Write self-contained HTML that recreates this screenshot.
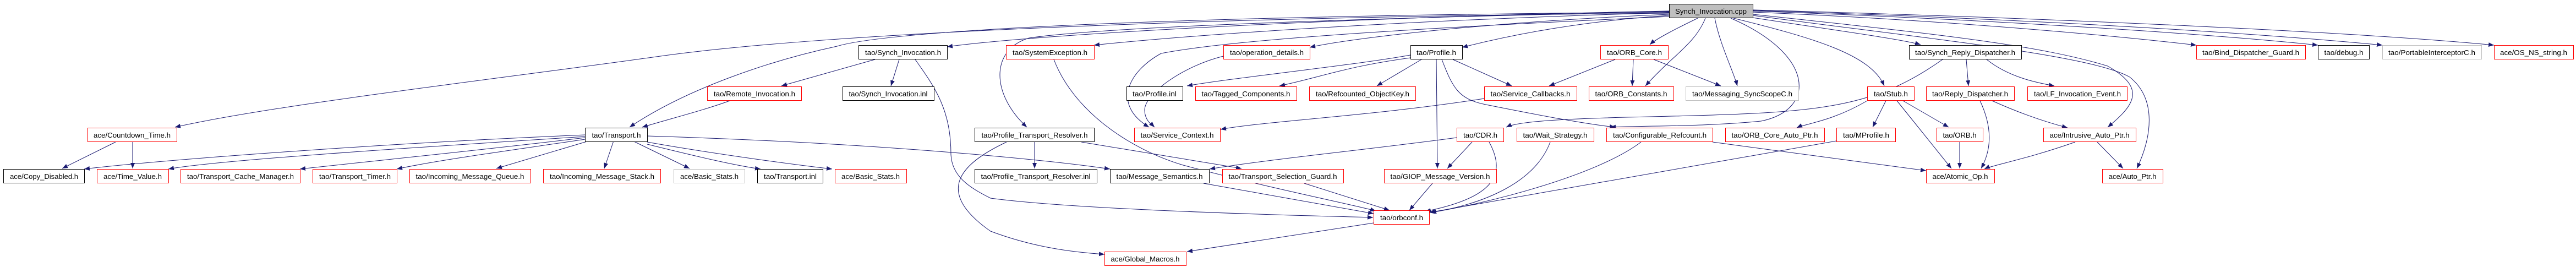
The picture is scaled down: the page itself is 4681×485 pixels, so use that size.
<!DOCTYPE html>
<html><head><meta charset="utf-8"><style>html,body{margin:0;padding:0;background:#fff}svg{display:block}text{font-family:"Liberation Sans",sans-serif;font-size:12.5px;fill:#000}</style></head><body>
<svg width="4681" height="485" viewBox="0 0 4681 485" xmlns="http://www.w3.org/2000/svg">
<defs><marker id="a" markerWidth="10" markerHeight="8" refX="10" refY="4" orient="auto" markerUnits="userSpaceOnUse"><path d="M0,0 L10,4 L0,8 z" fill="#191970"/></marker></defs>
<g fill="none" stroke="#191970" stroke-width="1" marker-end="url(#a)">
<path d="M3033,24 C2200,30 1500,60 1200,102 S500,190 318,231"/>
<path d="M3033,22 C2000,30 1600,60 1521,84 C1400,110 1250,160 1144,231"/>
<path d="M1326,183 C1280,200 1220,215 1167,231"/>
<path d="M3033,20 C2500,30 1900,60 1721,85"/>
<path d="M3033,21 C2400,35 2000,50 1870,69 C1800,90 1800,170 1866,231"/>
<path d="M3033,23 C2600,35 2200,60 1988,82"/>
<path d="M3033,26 C2700,40 2450,70 2380,86"/>
<path d="M3033,28 C2850,40 2720,70 2657,86"/>
<path d="M3085,33 C3050,50 3010,70 2998,81"/>
<path d="M3099,33 C3080,80 3040,100 2990,156"/>
<path d="M3116,33 C3125,80 3150,130 3157,156"/>
<path d="M3145,33 C3300,100 3300,200 3200,220 C3100,230 3000,228 2926,231"/>
<path d="M3150,33 C3300,70 3400,100 3424,156"/>
<path d="M3185,32 C3300,50 3450,70 3490,81"/>
<path d="M3185,22 C3500,35 3800,60 3991,82"/>
<path d="M3185,20 C3600,35 4000,60 4212,82"/>
<path d="M3185,19 C3700,35 4100,60 4329,82"/>
<path d="M3185,18 C3800,35 4300,60 4532,82"/>
<path d="M3185,26 C3500,60 3700,80 3830,120 C3900,160 3880,190 3830,231"/>
<path d="M3185,28 C3500,70 3800,100 3870,140 C3920,180 3910,250 3883,306"/>
<path d="M3033,30 C2600,50 2250,70 2110,97 C2050,130 2020,190 2088,231"/>
<path d="M2223,102 C2150,120 2080,170 2080,200 C2080,220 2095,228 2098,231"/>
<path d="M2697,179 C2500,210 2300,220 2218,235"/>
<path d="M1590,108 L1420,156"/>
<path d="M1634,108 L1619,156"/>
<path d="M1663,108 C1700,160 1728,200 1728,281 C1730,320 1760,340 1800,360 C1950,380 2300,390 2495,395"/>
<path d="M1915,108 C1950,200 2050,270 2150,300 C2300,340 2450,370 2500,383"/>
<path d="M2563,100 C2450,120 2250,140 2157,156"/>
<path d="M2563,105 C2450,120 2400,140 2325,156"/>
<path d="M1880,258 L1880,306"/>
<path d="M1829,258 C1740,300 1700,350 1800,420 C1880,450 1950,458 2007,462"/>
<path d="M1965,258 L2256,306"/>
<path d="M1176,247 C1600,260 1900,290 2017,307"/>
<path d="M2647,250 C2500,270 2300,290 2198,307"/>
<path d="M1063,245 C700,260 300,290 153,307"/>
<path d="M1063,248 C800,265 400,290 306,307"/>
<path d="M1063,250 C900,270 700,290 545,307"/>
<path d="M1063,253 C950,270 800,290 721,307"/>
<path d="M1070,256 L902,306"/>
<path d="M1115,256 L1098,306"/>
<path d="M1150,256 L1253,306"/>
<path d="M1176,262 C1250,280 1330,300 1382,307"/>
<path d="M1176,258 C1300,280 1450,300 1512,307"/>
<path d="M210,258 L113,306"/>
<path d="M241,258 L241,306"/>
<path d="M2187,333 L2496,388"/>
<path d="M2370,333 L2525,382"/>
<path d="M2496,405 L2157,457"/>
<path d="M2583,108 L2502,156"/>
<path d="M2640,108 L2747,156"/>
<path d="M2610,108 L2612,306"/>
<path d="M2620,108 C2640,160 2650,180 2700,190 C2800,210 2880,225 2935,231"/>
<path d="M2935,108 L2815,156"/>
<path d="M2968,108 L2966,156"/>
<path d="M3005,108 L3127,156"/>
<path d="M3530,108 C3400,200 3300,205 3000,212 C2850,215 2760,220 2737,231"/>
<path d="M3573,108 L3577,156"/>
<path d="M3610,108 C3650,140 3700,150 3733,156"/>
<path d="M3620,183 C3680,210 3730,225 3757,232"/>
<path d="M3598,183 C3620,230 3620,270 3600,306"/>
<path d="M3393,183 C3330,220 3280,225 3265,232"/>
<path d="M3427,183 L3403,231"/>
<path d="M3458,183 L3541,231"/>
<path d="M3447,183 L3546,306"/>
<path d="M3561,258 L3561,306"/>
<path d="M3112,258 L3500,310"/>
<path d="M3337,256 L2597,386"/>
<path d="M2675,258 L2630,306"/>
<path d="M2706,258 C2740,320 2710,360 2590,384"/>
<path d="M2603,333 L2561,382"/>
<path d="M2817,258 C2790,330 2700,370 2600,386"/>
<path d="M2982,258 C2900,320 2700,370 2600,386"/>
<path d="M3771,258 C3680,290 3620,300 3606,307"/>
<path d="M3811,258 L3858,306"/>
</g>
<g stroke-width="1">
<rect x="3033.5" y="7.5" width="152" height="25" fill="#bfbfbf" stroke="#000"/>
<rect x="1560.5" y="82.5" width="161" height="25" fill="#fff" stroke="#000"/>
<rect x="1828.5" y="82.5" width="160" height="25" fill="#fff" stroke="#f00"/>
<rect x="2223.5" y="82.5" width="157" height="25" fill="#fff" stroke="#f00"/>
<rect x="2563.5" y="82.5" width="94" height="25" fill="#fff" stroke="#000"/>
<rect x="2908.5" y="82.5" width="123" height="25" fill="#fff" stroke="#f00"/>
<rect x="3469.5" y="82.5" width="204" height="25" fill="#fff" stroke="#000"/>
<rect x="3991.5" y="82.5" width="198" height="25" fill="#fff" stroke="#f00"/>
<rect x="4212.5" y="82.5" width="93" height="25" fill="#fff" stroke="#000"/>
<rect x="4329.5" y="82.5" width="180" height="25" fill="#fff" stroke="#bfbfbf"/>
<rect x="4532.5" y="82.5" width="144" height="25" fill="#fff" stroke="#f00"/>
<rect x="1285.5" y="157.5" width="171" height="25" fill="#fff" stroke="#f00"/>
<rect x="1531.5" y="157.5" width="166" height="25" fill="#fff" stroke="#000"/>
<rect x="2047.5" y="157.5" width="102" height="25" fill="#fff" stroke="#000"/>
<rect x="2172.5" y="157.5" width="184" height="25" fill="#fff" stroke="#f00"/>
<rect x="2379.5" y="157.5" width="193" height="25" fill="#fff" stroke="#f00"/>
<rect x="2697.5" y="157.5" width="168" height="25" fill="#fff" stroke="#f00"/>
<rect x="2887.5" y="157.5" width="154" height="25" fill="#fff" stroke="#f00"/>
<rect x="3063.5" y="157.5" width="205" height="25" fill="#fff" stroke="#bfbfbf"/>
<rect x="3393.5" y="157.5" width="85" height="25" fill="#fff" stroke="#f00"/>
<rect x="3500.5" y="157.5" width="160" height="25" fill="#fff" stroke="#f00"/>
<rect x="3684.5" y="157.5" width="181" height="25" fill="#fff" stroke="#f00"/>
<rect x="159.5" y="232.5" width="162" height="25" fill="#fff" stroke="#f00"/>
<rect x="1063.5" y="232.5" width="113" height="25" fill="#fff" stroke="#000"/>
<rect x="1771.5" y="232.5" width="217" height="25" fill="#fff" stroke="#000"/>
<rect x="2061.5" y="232.5" width="156" height="25" fill="#fff" stroke="#f00"/>
<rect x="2647.5" y="232.5" width="85" height="25" fill="#fff" stroke="#f00"/>
<rect x="2756.5" y="232.5" width="140" height="25" fill="#fff" stroke="#f00"/>
<rect x="2919.5" y="232.5" width="193" height="25" fill="#fff" stroke="#f00"/>
<rect x="3135.5" y="232.5" width="180" height="25" fill="#fff" stroke="#f00"/>
<rect x="3337.5" y="232.5" width="107" height="25" fill="#fff" stroke="#f00"/>
<rect x="3519.5" y="232.5" width="84" height="25" fill="#fff" stroke="#f00"/>
<rect x="3713.5" y="232.5" width="168" height="25" fill="#fff" stroke="#f00"/>
<rect x="6.5" y="307.5" width="147" height="25" fill="#fff" stroke="#000"/>
<rect x="176.5" y="307.5" width="130" height="25" fill="#fff" stroke="#f00"/>
<rect x="328.5" y="307.5" width="217" height="25" fill="#fff" stroke="#f00"/>
<rect x="568.5" y="307.5" width="153" height="25" fill="#fff" stroke="#f00"/>
<rect x="744.5" y="307.5" width="220" height="25" fill="#fff" stroke="#f00"/>
<rect x="987.5" y="307.5" width="213" height="25" fill="#fff" stroke="#f00"/>
<rect x="1224.5" y="307.5" width="129" height="25" fill="#fff" stroke="#bfbfbf"/>
<rect x="1376.5" y="307.5" width="119" height="25" fill="#fff" stroke="#000"/>
<rect x="1517.5" y="307.5" width="130" height="25" fill="#fff" stroke="#f00"/>
<rect x="1771.5" y="307.5" width="222" height="25" fill="#fff" stroke="#000"/>
<rect x="2017.5" y="307.5" width="180" height="25" fill="#fff" stroke="#000"/>
<rect x="2221.5" y="307.5" width="220" height="25" fill="#fff" stroke="#f00"/>
<rect x="2515.5" y="307.5" width="204" height="25" fill="#fff" stroke="#f00"/>
<rect x="3500.5" y="307.5" width="124" height="25" fill="#fff" stroke="#f00"/>
<rect x="3820.5" y="307.5" width="110" height="25" fill="#fff" stroke="#f00"/>
<rect x="2496.5" y="382.5" width="101" height="25" fill="#fff" stroke="#f00"/>
<rect x="2007.5" y="457.5" width="148" height="25" fill="#fff" stroke="#f00"/>
</g>
<g text-anchor="middle" lengthAdjust="spacingAndGlyphs">
<text x="3109" y="25" textLength="130" lengthAdjust="spacingAndGlyphs">Synch_Invocation.cpp</text>
<text x="1641" y="100" textLength="138" lengthAdjust="spacingAndGlyphs">tao/Synch_Invocation.h</text>
<text x="1908" y="100" textLength="136" lengthAdjust="spacingAndGlyphs">tao/SystemException.h</text>
<text x="2302" y="100" textLength="134" lengthAdjust="spacingAndGlyphs">tao/operation_details.h</text>
<text x="2610" y="100" textLength="72" lengthAdjust="spacingAndGlyphs">tao/Profile.h</text>
<text x="2970" y="100" textLength="100" lengthAdjust="spacingAndGlyphs">tao/ORB_Core.h</text>
<text x="3571" y="100" textLength="182" lengthAdjust="spacingAndGlyphs">tao/Synch_Reply_Dispatcher.h</text>
<text x="4090" y="100" textLength="176" lengthAdjust="spacingAndGlyphs">tao/Bind_Dispatcher_Guard.h</text>
<text x="4259" y="100" textLength="71" lengthAdjust="spacingAndGlyphs">tao/debug.h</text>
<text x="4419" y="100" textLength="158" lengthAdjust="spacingAndGlyphs">tao/PortableInterceptorC.h</text>
<text x="4604" y="100" textLength="122" lengthAdjust="spacingAndGlyphs">ace/OS_NS_string.h</text>
<text x="1371" y="175" textLength="148" lengthAdjust="spacingAndGlyphs">tao/Remote_Invocation.h</text>
<text x="1614" y="175" textLength="143" lengthAdjust="spacingAndGlyphs">tao/Synch_Invocation.inl</text>
<text x="2098" y="175" textLength="80" lengthAdjust="spacingAndGlyphs">tao/Profile.inl</text>
<text x="2264" y="175" textLength="161" lengthAdjust="spacingAndGlyphs">tao/Tagged_Components.h</text>
<text x="2476" y="175" textLength="170" lengthAdjust="spacingAndGlyphs">tao/Refcounted_ObjectKey.h</text>
<text x="2781" y="175" textLength="145" lengthAdjust="spacingAndGlyphs">tao/Service_Callbacks.h</text>
<text x="2964" y="175" textLength="131" lengthAdjust="spacingAndGlyphs">tao/ORB_Constants.h</text>
<text x="3166" y="175" textLength="182" lengthAdjust="spacingAndGlyphs">tao/Messaging_SyncScopeC.h</text>
<text x="3436" y="175" textLength="62" lengthAdjust="spacingAndGlyphs">tao/Stub.h</text>
<text x="3580" y="175" textLength="138" lengthAdjust="spacingAndGlyphs">tao/Reply_Dispatcher.h</text>
<text x="3775" y="175" textLength="158" lengthAdjust="spacingAndGlyphs">tao/LF_Invocation_Event.h</text>
<text x="240" y="250" textLength="140" lengthAdjust="spacingAndGlyphs">ace/Countdown_Time.h</text>
<text x="1120" y="250" textLength="89" lengthAdjust="spacingAndGlyphs">tao/Transport.h</text>
<text x="1880" y="250" textLength="193" lengthAdjust="spacingAndGlyphs">tao/Profile_Transport_Resolver.h</text>
<text x="2139" y="250" textLength="133" lengthAdjust="spacingAndGlyphs">tao/Service_Context.h</text>
<text x="2690" y="250" textLength="62" lengthAdjust="spacingAndGlyphs">tao/CDR.h</text>
<text x="2826" y="250" textLength="117" lengthAdjust="spacingAndGlyphs">tao/Wait_Strategy.h</text>
<text x="3016" y="250" textLength="170" lengthAdjust="spacingAndGlyphs">tao/Configurable_Refcount.h</text>
<text x="3225" y="250" textLength="157" lengthAdjust="spacingAndGlyphs">tao/ORB_Core_Auto_Ptr.h</text>
<text x="3391" y="250" textLength="84" lengthAdjust="spacingAndGlyphs">tao/MProfile.h</text>
<text x="3561" y="250" textLength="61" lengthAdjust="spacingAndGlyphs">tao/ORB.h</text>
<text x="3797" y="250" textLength="145" lengthAdjust="spacingAndGlyphs">ace/Intrusive_Auto_Ptr.h</text>
<text x="80" y="325" textLength="124" lengthAdjust="spacingAndGlyphs">ace/Copy_Disabled.h</text>
<text x="241" y="325" textLength="106" lengthAdjust="spacingAndGlyphs">ace/Time_Value.h</text>
<text x="437" y="325" textLength="194" lengthAdjust="spacingAndGlyphs">tao/Transport_Cache_Manager.h</text>
<text x="645" y="325" textLength="130" lengthAdjust="spacingAndGlyphs">tao/Transport_Timer.h</text>
<text x="854" y="325" textLength="197" lengthAdjust="spacingAndGlyphs">tao/Incoming_Message_Queue.h</text>
<text x="1094" y="325" textLength="190" lengthAdjust="spacingAndGlyphs">tao/Incoming_Message_Stack.h</text>
<text x="1289" y="325" textLength="106" lengthAdjust="spacingAndGlyphs">ace/Basic_Stats.h</text>
<text x="1436" y="325" textLength="96" lengthAdjust="spacingAndGlyphs">tao/Transport.inl</text>
<text x="1582" y="325" textLength="106" lengthAdjust="spacingAndGlyphs">ace/Basic_Stats.h</text>
<text x="1882" y="325" textLength="199" lengthAdjust="spacingAndGlyphs">tao/Profile_Transport_Resolver.inl</text>
<text x="2107" y="325" textLength="157" lengthAdjust="spacingAndGlyphs">tao/Message_Semantics.h</text>
<text x="2331" y="325" textLength="197" lengthAdjust="spacingAndGlyphs">tao/Transport_Selection_Guard.h</text>
<text x="2617" y="325" textLength="181" lengthAdjust="spacingAndGlyphs">tao/GIOP_Message_Version.h</text>
<text x="3562" y="325" textLength="101" lengthAdjust="spacingAndGlyphs">ace/Atomic_Op.h</text>
<text x="3875" y="325" textLength="87" lengthAdjust="spacingAndGlyphs">ace/Auto_Ptr.h</text>
<text x="2547" y="400" textLength="78" lengthAdjust="spacingAndGlyphs">tao/orbconf.h</text>
<text x="2081" y="475" textLength="125" lengthAdjust="spacingAndGlyphs">ace/Global_Macros.h</text>
</g>
</svg>
</body></html>
